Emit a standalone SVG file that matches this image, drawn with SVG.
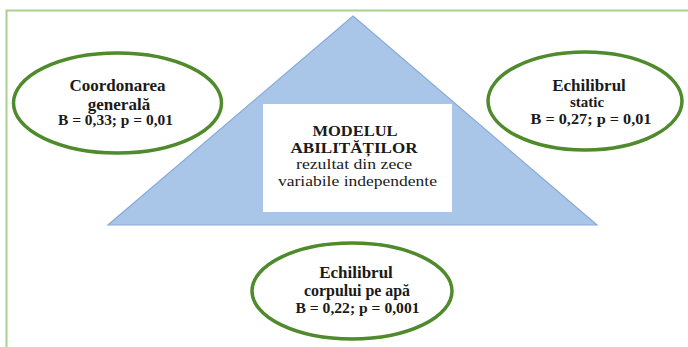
<svg xmlns="http://www.w3.org/2000/svg" width="688" height="347" viewBox="0 0 688 347">
<style>
.el{fill:#fff;stroke:#4f8a2c;stroke-width:3.5}
text{font-family:'Liberation Serif','Times New Roman',serif;fill:#1a1a1a;text-anchor:middle}
.b{font-weight:bold;font-size:17px}
.s{font-weight:bold;font-size:15px}
.c{font-size:14.5px}
</style>
<rect width="688" height="347" fill="#fff"/>
<g id="frame"><path d="M6.5,347 V10.5 H688" fill="none" stroke="#a9d08e" stroke-width="2"/></g>
<g id="triangle"><polygon points="353,16 597,225 108,225" fill="#a9c5e8" stroke="#86aadb" stroke-width="1.2"/></g>
<g id="center">
<rect x="263" y="104" width="189" height="108" fill="#fff"/>
<text class="c" x="355" y="136" font-weight="bold" textLength="85" lengthAdjust="spacingAndGlyphs">MODELUL</text>
<text class="c" x="354" y="152.5" font-weight="bold" textLength="127" lengthAdjust="spacingAndGlyphs">ABILITĂȚILOR</text>
<text class="c" x="354" y="169" textLength="116" lengthAdjust="spacingAndGlyphs">rezultat din zece</text>
<text class="c" x="357.5" y="185.5" textLength="159" lengthAdjust="spacingAndGlyphs">variabile independente</text>
</g>
<g id="left">
<ellipse class="el" cx="117.5" cy="103" rx="104" ry="50"/>
<text class="b" x="117.5" y="91">Coordonarea</text>
<text class="b" x="119" y="109.5">generală</text>
<text class="s" x="115.5" y="125" textLength="115" lengthAdjust="spacingAndGlyphs">B = 0,33; p = 0,01</text>
</g>
<g id="right">
<ellipse class="el" cx="585" cy="101" rx="97" ry="49"/>
<text class="b" x="589" y="90.5">Echilibrul</text>
<text class="s" x="587" y="107" font-size="15.5">static</text>
<text class="s" x="591" y="124" textLength="121" lengthAdjust="spacingAndGlyphs">B = 0,27; p = 0,01</text>
</g>
<g id="bottom">
<ellipse class="el" cx="352" cy="291" rx="100" ry="48"/>
<text class="b" x="356" y="277.5" font-size="17.5">Echilibrul</text>
<text class="b" x="357" y="295.5" textLength="106" lengthAdjust="spacingAndGlyphs">corpului pe apă</text>
<text class="s" x="357.5" y="313" textLength="124" lengthAdjust="spacingAndGlyphs">B = 0,22; p = 0,001</text>
</g>
<g id="connectors"></g>
</svg>
